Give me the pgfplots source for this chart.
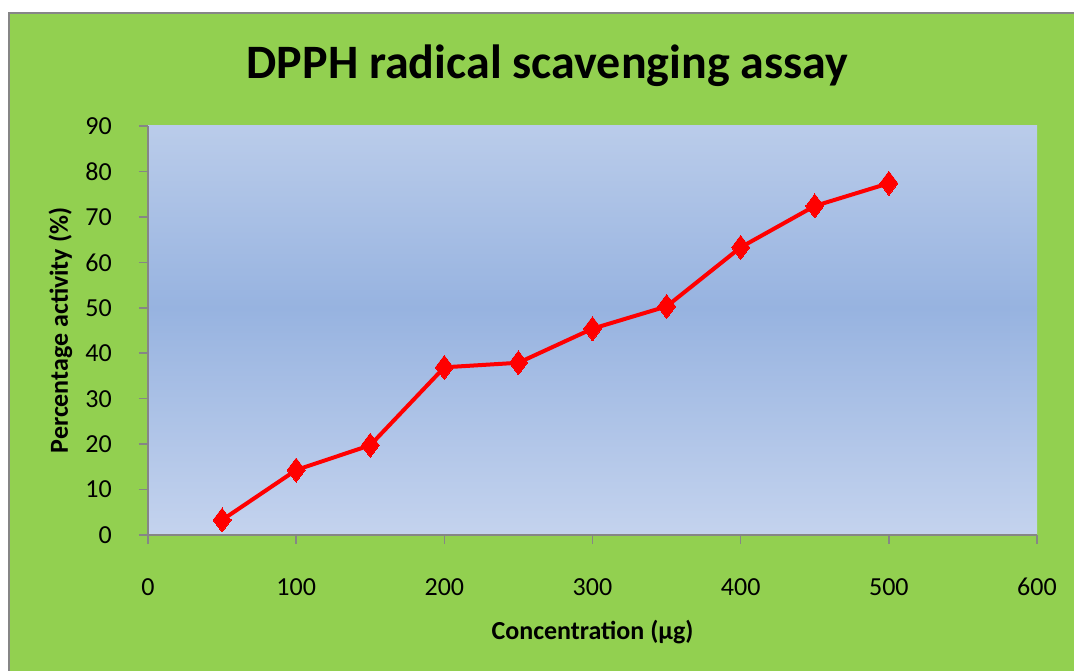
\documentclass[border=0pt]{standalone}
\usepackage{fontspec}
\setmainfont{Carlito}
\usepackage{pgfplots}
\pgfplotsset{compat=1.18}
\definecolor{bggreen}{HTML}{92D050}
\definecolor{axgray}{HTML}{868686}
\definecolor{topblue}{HTML}{BACCEA}
\definecolor{midblue}{HTML}{97B3E0}
\definecolor{botblue}{HTML}{C4D3EE}
\begin{document}
\begin{tikzpicture}
\useasboundingbox (0pt,0pt) rectangle (1074pt,671pt);
\fill[white] (0pt,0pt) rectangle (1074pt,671pt);
\fill[bggreen] (9pt,0pt) rectangle (1074pt,658pt);
\draw[axgray, line width=2pt] (9pt,0pt) -- (9pt,658pt) -- (1074pt,658pt);
\node[anchor=base, font=\fontsize{48}{58}\selectfont\bfseries] at (547.5pt,592pt) {DPPH radical scavenging assay};
\begin{axis}[
  at={(148pt,136pt)}, anchor=south west,
  scale only axis, width=889pt, height=409pt,
  xmin=0, xmax=600, ymin=0, ymax=90,
  xtick={0,100,...,600}, ytick={0,10,...,90},
  axis x line*=bottom, axis y line*=left,
  axis line style={axgray, line width=2pt, -},
  tick style={axgray, line width=1.5pt},
  tick align=outside,
  major tick length=9pt,
  axis on top,
  /pgf/number format/assume math mode=true,
  ticklabel style={font=\fontsize{26}{30}\selectfont, text=black},
  xticklabel style={anchor=base, inner sep=0pt, yshift=-52pt},
  yticklabel style={anchor=east, inner sep=0pt, xshift=-27pt},
  xlabel={Concentration (µg)},
  ylabel={Percentage activity (\%)},
  label style={font=\fontsize{26}{30}\selectfont\bfseries},
  xlabel style={at={(axis description cs:0.5,-0.2567)}, anchor=base},
  ylabel style={at={(axis description cs:-0.09,0.5)}, anchor=base},
  clip=false,
]
\path[bottom color=botblue, top color=midblue] (axis cs:0,0) rectangle (axis cs:600,50);
\path[bottom color=midblue, top color=topblue] (axis cs:0,50) rectangle (axis cs:600,90);
\addplot[red, line width=4pt, mark=diamond*, mark size=12pt, mark options={fill=red, line width=0pt}]
coordinates {
(50,3.3) (100,14.3) (150,19.75) (200,36.9) (250,37.9)
(300,45.4) (350,50.3) (400,63.3) (450,72.4) (500,77.4)
};
\end{axis}
\end{tikzpicture}
\end{document}
